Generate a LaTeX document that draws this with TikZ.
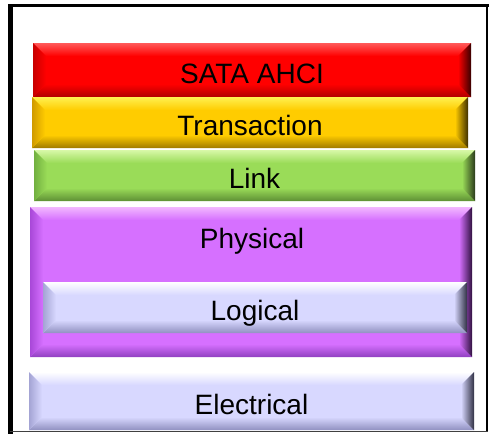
\documentclass[tikz,border=0pt]{standalone}
\usepackage{fontspec}
\setmainfont{Liberation Sans}
\usetikzlibrary{backgrounds}
% colour sets: base, light (top), side (left), dark (bottom), edge (right)
\definecolor{rbase}{HTML}{FF0000}\definecolor{rlight}{HTML}{FF5A5A}\definecolor{rside}{HTML}{C80000}\definecolor{rdark}{HTML}{B00000}\definecolor{redge}{HTML}{380000}
\definecolor{ybase}{HTML}{FFCC00}\definecolor{ylight}{HTML}{FFF050}\definecolor{yside}{HTML}{D09A00}\definecolor{ydark}{HTML}{A07A00}\definecolor{yedge}{HTML}{403000}
\definecolor{gbase}{HTML}{9ADC58}\definecolor{glight}{HTML}{D8F8A8}\definecolor{gside}{HTML}{72B040}\definecolor{gdark}{HTML}{5E8F35}\definecolor{gedge}{HTML}{2A3A1A}
\definecolor{pbase}{HTML}{D670FF}\definecolor{plight}{HTML}{F2B8FF}\definecolor{pside}{HTML}{A848D8}\definecolor{pdark}{HTML}{9040C0}\definecolor{pedge}{HTML}{301040}
\definecolor{lbase}{HTML}{D8D8FF}\definecolor{llight}{HTML}{FFFFFF}\definecolor{lside}{HTML}{A4A4D4}\definecolor{ldark}{HTML}{9090C0}\definecolor{ledge}{HTML}{303044}
\newcommand\bv{13}
\newcommand\bevelfill[2]{%
  \begin{scope}[on background layer]
    \fill[#2base] (#1.north west) rectangle (#1.south east);
    \shade[top color=#2light, bottom color=#2base]
      (#1.north west) -- (#1.north east) -- ([shift={(-\bv,\bv)}]#1.north east) -- ([shift={(\bv,\bv)}]#1.north west) -- cycle;
    \shade[top color=#2base, bottom color=#2dark]
      (#1.south west) -- (#1.south east) -- ([shift={(-\bv,-\bv)}]#1.south east) -- ([shift={(\bv,-\bv)}]#1.south west) -- cycle;
    \shade[left color=#2side, right color=#2base]
      (#1.north west) -- ([shift={(\bv,\bv)}]#1.north west) -- ([shift={(\bv,-\bv)}]#1.south west) -- (#1.south west) -- cycle;
    \shade[left color=#2base, right color=#2edge]
      (#1.north east) -- ([shift={(-\bv,\bv)}]#1.north east) -- ([shift={(-\bv,-\bv)}]#1.south east) -- (#1.south east) -- cycle;
  \end{scope}}
\newcommand\layerbox[7]{% name x1 y1 x2 y2 colour text
  \node[lay, minimum width={(#4-#2)*1pt}, minimum height={(#5-#3)*1pt}] (#1) at ({(#2+#4)/2},{(#3+#5)/2}) {#7};
  \bevelfill{#1}{#6}}
\tikzset{
  lay/.style={inner sep=0pt, outer sep=0pt, text height=26pt, text depth=0pt,
    font=\fontsize{28}{30}\selectfont, text=black},
  laytext/.style={inner sep=0pt, anchor=base, font=\fontsize{28}{30}\selectfont, text=black},
  frameline/.style={draw=black}
}
\begin{document}
\begin{tikzpicture}[x=1pt,y=-1pt]
\useasboundingbox (0,0) rectangle (490,434);
% frame
\coordinate (ftl) at (8,5.5);
\coordinate (ftr) at (488.5,5.5);
\draw[frameline, line width=3pt] (ftl) -- (ftr);
\coordinate (fl1) at (10.6,4);
\coordinate (fl2) at (10.6,434);
\draw[frameline, line width=5.2pt] (fl1) -- (fl2);
\coordinate (fr1) at (487,4);
\coordinate (fr2) at (487,432);
\draw[frameline, line width=2.5pt] (fr1) -- (fr2);
\coordinate (fb1) at (10,431.5);
\coordinate (fb2) at (488,431.5);
\draw[draw=black!75, line width=1pt] (fb1) -- (fb2);
% layers
\layerbox{sata}{33}{43}{471}{97}{r}{SATA AHCI}
\layerbox{trans}{32}{97}{468}{148}{y}{Transaction}
\layerbox{link}{34}{150}{475}{201}{g}{Link}
\layerbox{phys}{30}{207}{472}{357}{p}{}
\node[laytext] (physlbl) at (252,248) {Physical};
\layerbox{logic}{43}{282}{467}{333}{l}{Logical}
\layerbox{elec}{29}{372}{474}{430}{l}{Electrical}
\end{tikzpicture}
\end{document}
